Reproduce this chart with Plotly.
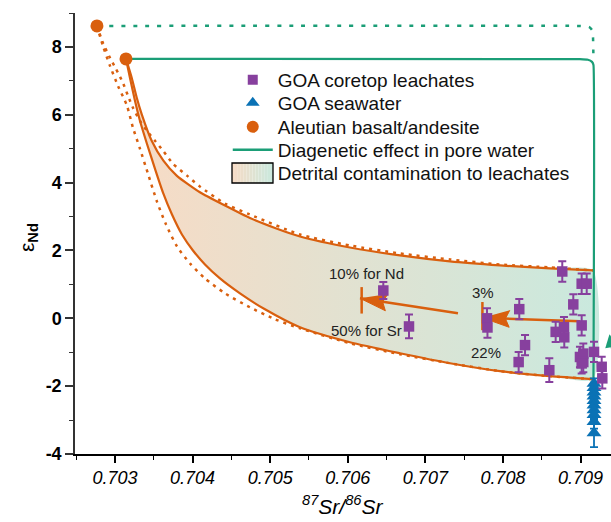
import plotly.graph_objects as go

# ---------------- data ----------------
# GOA coretop leachates
leach_x = [0.706458, 0.706789, 0.707794, 0.707800, 0.708210, 0.708284, 0.708202, 0.708597,
           0.708764, 0.708906, 0.709014, 0.709079, 0.709014, 0.708679, 0.708786, 0.708790,
           0.708992, 0.709035, 0.709035, 0.709014, 0.709173, 0.709272, 0.709280]
leach_y = [0.82, -0.24, 0.00, -0.27, 0.27, -0.79, -1.29, -1.53,
           1.38, 0.41, 1.02, 1.02, -0.21, -0.40, -0.26, -0.56,
           -1.14, -1.04, -1.29, -1.33, -0.99, -1.43, -1.77]
leach_err = [0.25, 0.35, 0.3, 0.3, 0.3, 0.3, 0.3, 0.35,
             0.3, 0.3, 0.3, 0.3, 0.3, 0.3, 0.3, 0.3,
             0.3, 0.3, 0.3, 0.3, 0.3, 0.3, 0.3]

# GOA seawater
sw_x = [0.709173] * 10
sw_y = [-1.92, -2.05, -2.18, -2.30, -2.43, -2.56, -2.70, -2.84, -3.05, -3.38]
sw_err = [0.15, 0.15, 0.15, 0.15, 0.15, 0.15, 0.15, 0.15, 0.2, 0.42]

# Aleutian basalt / andesite
ab_x = [0.702768, 0.703142]
ab_y = [8.618, 7.647]

# mixing curves (solid, from lower end-member)
up_x = [0.703142, 0.703215, 0.703280, 0.703344, 0.703473, 0.703624, 0.703795, 0.704095,
        0.704418, 0.704740, 0.705062, 0.705384, 0.706028, 0.706673, 0.707317, 0.707961,
        0.708606, 0.709160]
up_y = [7.647, 7.097, 6.509, 6.021, 5.235, 4.647, 4.206, 3.715,
        3.324, 2.956, 2.662, 2.412, 2.088, 1.853, 1.676, 1.559, 1.471, 1.412]
lo_x = [0.703142, 0.703193, 0.703258, 0.703322, 0.703412, 0.703515, 0.703619, 0.703735,
        0.703863, 0.704005, 0.704160, 0.704353, 0.704611, 0.704933, 0.705384, 0.706028,
        0.706673, 0.707317, 0.707961, 0.708606, 0.709160]
lo_y = [7.647, 7.088, 6.412, 5.824, 5.147, 4.412, 3.706, 3.059,
        2.471, 2.000, 1.588, 1.176, 0.735, 0.265, -0.265, -0.706,
        -1.029, -1.324, -1.559, -1.706, -1.794]

# mixing curves (dotted, from upper end-member)
dup_x = [0.702768, 0.702845, 0.702936, 0.703013, 0.703103, 0.703168, 0.703232, 0.703322,
         0.703412, 0.703515, 0.703619, 0.703747, 0.703928, 0.704095, 0.704418, 0.704740,
         0.705384, 0.706028, 0.706673, 0.707317, 0.707961, 0.708606, 0.709160]
dup_y = [8.618, 8.118, 7.676, 7.353, 6.941, 6.559, 6.206, 5.824,
         5.529, 5.235, 4.941, 4.559, 4.206, 3.882, 3.382, 3.059,
         2.471, 2.147, 1.912, 1.735, 1.588, 1.500, 1.412]
dlo_x = [0.702768, 0.702845, 0.702936, 0.703039, 0.703155, 0.703232, 0.703322, 0.703425,
         0.703541, 0.703658, 0.703799, 0.703966, 0.704160, 0.704418, 0.704740, 0.705062,
         0.705384, 0.706028, 0.706673, 0.707317, 0.707961, 0.708606, 0.709160]
dlo_y = [8.618, 8.029, 7.441, 6.853, 6.265, 5.618, 5.000, 4.265,
         3.441, 2.765, 2.118, 1.618, 1.176, 0.735, 0.324, -0.029,
         -0.294, -0.735, -1.059, -1.324, -1.559, -1.706, -1.794]

# diagenetic pathways (pore water)
gs_x = [0.703142, 0.708992, 0.709095, 0.709147, 0.709166, 0.709166]
gs_y = [7.647, 7.640, 7.620, 7.560, 7.470, -1.79]
gd_x = [0.702768, 0.708992, 0.709108, 0.709147, 0.709160, 0.709166]
gd_y = [8.618, 8.618, 8.590, 8.500, 8.290, 7.650]
# seawater -> pore water arrow (mostly off the plotted area)
garr_tail = (0.709450, -1.50)
garr_tip = (0.709372, -0.47)

# contamination arrows
arr_tail_x = [0.707420, 0.708992]
arr_tail_y = [0.15, -0.09]
arr_tip_x = [0.706157, 0.707736]
arr_tip_y = [0.59, 0.015]
bar_x = [0.706179, 0.707735]
bar_y0 = [0.14, -0.35]
bar_y1 = [0.92, 0.48]

labels_txt = ["10% for Nd", "50% for Sr", "3%", "22%"]
labels_x = [0.706235, 0.706235, 0.707742, 0.707781]
labels_y = [1.32, -0.35, 0.765, -1.0]

legend_names = ["GOA coretop leachates", "GOA seawater", "Aleutian basalt/andesite",
                "Diagenetic effect in pore water", "Detrital contamination to leachates"]

x_range = [0.702485, 0.709392]
y_range = [-4, 9]
y_tickvals = [-4, -2, 0, 2, 4, 6, 8]
y_ticktext = ["-4", "-2", "0", "2", "4", "6", "8"]

# ---------------- style ----------------
ORANGE = "#d95f0e"
GREEN = "#1b9e77"
PURPLE = "#87409e"
BLUE = "#0a72b5"
FONT = "Liberation Sans, Arial, sans-serif"
GRAD_L, GRAD_R = (248, 219, 197), (201, 233, 222)
GRAD = [[0, "rgb(%d,%d,%d)" % GRAD_L], [1, "rgb(%d,%d,%d)" % GRAD_R]]

W, H = 611, 522
ML, MR, MT, MB = 75, 0, 13, 68
PW, PH = W - ML - MR, H - MT - MB
LEG_ROWS_PX = [80, 103, 127, 150, 173]
SWATCH_PX = (232, 273, 163, 183)  # x0, x1, y0, y1 of the gradient legend box

fig = go.Figure()

# gradient fill between the solid mixing curves
fig.add_trace(go.Scatter(
    x=up_x + lo_x[::-1], y=up_y + lo_y[::-1], mode="lines", fill="toself",
    line=dict(width=0, color="rgba(0,0,0,0)", shape="spline", smoothing=0.6),
    fillgradient=dict(type="horizontal", colorscale=GRAD),
    showlegend=False, hoverinfo="skip"))

# dotted mixing curves
for xs, ys in [(dup_x, dup_y), (dlo_x, dlo_y)]:
    fig.add_trace(go.Scatter(x=xs, y=ys, mode="lines",
                             line=dict(color=ORANGE, width=2.5, dash="3px,5px",
                                       shape="spline", smoothing=0.6),
                             showlegend=False, hoverinfo="skip"))
# solid mixing curves
for xs, ys in [(up_x, up_y), (lo_x, lo_y)]:
    fig.add_trace(go.Scatter(x=xs, y=ys, mode="lines",
                             line=dict(color=ORANGE, width=2.2, shape="spline", smoothing=0.6),
                             showlegend=False, hoverinfo="skip"))

# green diagenetic lines
fig.add_trace(go.Scatter(x=gd_x, y=gd_y, mode="lines",
                         line=dict(color=GREEN, width=2.5, dash="4px,8px", shape="spline", smoothing=0.3),
                         showlegend=False, hoverinfo="skip"))
fig.add_trace(go.Scatter(x=gs_x, y=gs_y, mode="lines",
                         line=dict(color=GREEN, width=2.2, shape="spline", smoothing=0.3),
                         showlegend=False, hoverinfo="skip"))
fig.add_annotation(x=garr_tip[0], y=garr_tip[1], ax=garr_tail[0], ay=garr_tail[1],
                   axref="x", ayref="y", text="", showarrow=True, arrowhead=2,
                   arrowsize=1.3, arrowwidth=2, arrowcolor=GREEN)

# arrow bars and shafts + heads
xscale = PW / (x_range[1] - x_range[0])
yscale = PH / (y_range[1] - y_range[0])
HEAD_L, HEAD_W = 27, 8.5
for i in range(len(arr_tip_x)):
    fig.add_trace(go.Scatter(x=[bar_x[i], bar_x[i]], y=[bar_y0[i], bar_y1[i]], mode="lines",
                             line=dict(color=ORANGE, width=2.5), showlegend=False, hoverinfo="skip"))
    fig.add_trace(go.Scatter(x=[arr_tail_x[i], arr_tip_x[i]], y=[arr_tail_y[i], arr_tip_y[i]],
                             mode="lines", line=dict(color=ORANGE, width=2.5),
                             showlegend=False, hoverinfo="skip"))
    dx = (arr_tip_x[i] - arr_tail_x[i]) * xscale
    dy = (arr_tip_y[i] - arr_tail_y[i]) * yscale
    n = (dx * dx + dy * dy) ** 0.5
    ux, uy = dx / n, dy / n
    bx, by = -ux * HEAD_L, -uy * HEAD_L
    px, py = -uy * HEAD_W, ux * HEAD_W
    hx = [arr_tip_x[i], arr_tip_x[i] + (bx + px) / xscale, arr_tip_x[i] + (bx * 0.85) / xscale,
          arr_tip_x[i] + (bx - px) / xscale]
    hy = [arr_tip_y[i], arr_tip_y[i] + (by + py) / yscale, arr_tip_y[i] + (by * 0.85) / yscale,
          arr_tip_y[i] + (by - py) / yscale]
    fig.add_trace(go.Scatter(x=hx, y=hy, mode="lines", fill="toself", fillcolor=ORANGE,
                             line=dict(color=ORANGE, width=1), showlegend=False, hoverinfo="skip"))

# data
fig.add_trace(go.Scatter(x=sw_x, y=sw_y, mode="markers",
                         marker=dict(symbol="triangle-up", size=13, color=BLUE),
                         error_y=dict(type="data", array=sw_err, color=BLUE, thickness=1.8, width=4),
                         showlegend=False))
fig.add_trace(go.Scatter(x=leach_x, y=leach_y, mode="markers",
                         marker=dict(symbol="square", size=10.5, color=PURPLE),
                         error_y=dict(type="data", array=leach_err, color=PURPLE, thickness=2, width=4),
                         showlegend=False))
fig.add_trace(go.Scatter(x=ab_x, y=ab_y, mode="markers",
                         marker=dict(symbol="circle", size=13, color=ORANGE),
                         showlegend=False))

# legend entries (one legend per row so the row spacing matches)
leg_ids = ["legend", "legend2", "legend3", "legend4", "legend5"]
fig.add_trace(go.Scatter(x=[None], y=[None], mode="markers", name=legend_names[0], legend=leg_ids[0],
                         marker=dict(symbol="square", size=10, color=PURPLE)))
fig.add_trace(go.Scatter(x=[None], y=[None], mode="markers", name=legend_names[1], legend=leg_ids[1],
                         marker=dict(symbol="triangle-up", size=12, color=BLUE)))
fig.add_trace(go.Scatter(x=[None], y=[None], mode="markers", name=legend_names[2], legend=leg_ids[2],
                         marker=dict(symbol="circle", size=12, color=ORANGE)))
fig.add_trace(go.Scatter(x=[None], y=[None], mode="lines", name=legend_names[3], legend=leg_ids[3],
                         line=dict(color=GREEN, width=2.5)))
fig.add_trace(go.Scatter(x=[0.70, 0.70, 0.7001], y=[20, 21, 21], mode="lines", fill="toself",
                         name=legend_names[4], legend=leg_ids[4],
                         line=dict(color="rgba(0,0,0,0)", width=0),
                         fillcolor="rgba(0,0,0,0)"))

leg_layout = {}
for lid, row in zip(leg_ids, LEG_ROWS_PX):
    leg_layout[lid] = dict(x=0.285, y=(H - MB - row) / PH, xanchor="left", yanchor="middle",
                           bgcolor="rgba(0,0,0,0)", borderwidth=0,
                           font=dict(family=FONT, size=19, color="#111"), itemwidth=40)

# gradient swatch box for the contamination legend entry
sx0, sx1, sy0, sy1 = SWATCH_PX
NSTRIP = 14
for k in range(NSTRIP):
    t = (k + 0.5) / NSTRIP
    col = tuple(round(a + (b - a) * t) for a, b in zip(GRAD_L, GRAD_R))
    fig.add_shape(type="rect", xref="paper", yref="paper",
                  x0=(sx0 + (sx1 - sx0) * k / NSTRIP - ML) / PW,
                  x1=(sx0 + (sx1 - sx0) * (k + 1) / NSTRIP - ML) / PW,
                  y0=(H - MB - sy1) / PH, y1=(H - MB - sy0) / PH,
                  fillcolor="rgb(%d,%d,%d)" % col, line=dict(width=0), layer="above")
fig.add_shape(type="rect", xref="paper", yref="paper",
              x0=(sx0 - ML) / PW, x1=(sx1 - ML) / PW,
              y0=(H - MB - sy1) / PH, y1=(H - MB - sy0) / PH,
              fillcolor="rgba(0,0,0,0)", line=dict(color="black", width=1.3), layer="above")

for t, x, y in zip(labels_txt, labels_x, labels_y):
    fig.add_annotation(x=x, y=y, text=t, showarrow=False,
                       font=dict(family=FONT, size=15, color="#222"))

# axis titles
fig.add_annotation(xref="paper", yref="paper", x=(28 - ML) / PW, y=(H - MB - 238) / PH,
                   xanchor="center", yanchor="middle",
                   text="ε<sub><b>Nd</b></sub>", textangle=-90, showarrow=False,
                   font=dict(family=FONT, size=21, color="black"))
fig.add_annotation(xref="paper", yref="paper", x=0.5, y=-(505 - (H - MB)) / PH,
                   xanchor="center", yanchor="middle",
                   text="<sup>87</sup>Sr/<sup>86</sup>Sr", showarrow=False,
                   font=dict(family=FONT, size=21, color="black", style="italic"))

fig.update_xaxes(range=x_range, showgrid=False, zeroline=False, showline=True,
                 linecolor="black", linewidth=1.5, ticks="outside", ticklen=7, tickwidth=1.5,
                 tickcolor="black", dtick=0.001, tick0=0.703, tickformat=".3f",
                 tickfont=dict(family=FONT, size=18, color="black", style="italic"),
                 minor=dict(dtick=0.0005, ticks="outside", ticklen=4, tickwidth=1.2, tickcolor="black"))
fig.update_yaxes(range=y_range, showgrid=False, zeroline=False, showline=True,
                 linecolor="#333", linewidth=1.5, ticks="outside", ticklen=8, tickwidth=1.5,
                 tickcolor="#333", tickmode="array", tickvals=y_tickvals, ticktext=y_ticktext,
                 tickfont=dict(family=FONT, size=18, color="black", weight="bold"),
                 minor=dict(dtick=1, tick0=-4, ticks="outside", ticklen=4, tickwidth=1.2, tickcolor="#333"))

fig.update_layout(
    width=W, height=H, margin=dict(l=ML, r=MR, t=MT, b=MB),
    plot_bgcolor="white", paper_bgcolor="white",
    font=dict(family=FONT),
    **leg_layout,
)

fig.write_html("out.html")
